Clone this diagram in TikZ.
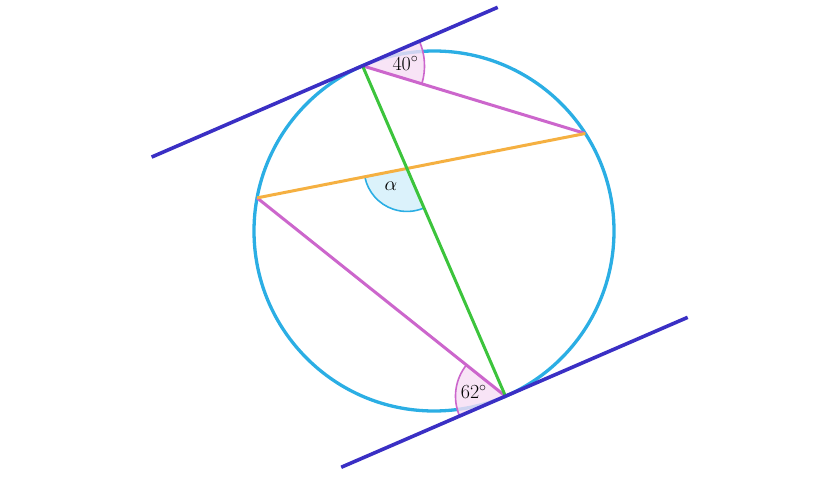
\RequirePackage{fix-cm}
\documentclass[tikz,border=0pt]{standalone}
\usetikzlibrary{calc}
\definecolor{circblue}{HTML}{2BAEE4}
\definecolor{tangblue}{HTML}{3A2FC4}
\definecolor{chordpurple}{HTML}{CC66CC}
\definecolor{diamgreen}{HTML}{3CC43C}
\definecolor{chordorange}{HTML}{F5B041}
\definecolor{pinkfill}{HTML}{F6DDF4}
\definecolor{bluefill}{HTML}{D2EFFA}
\begin{document}
\begin{tikzpicture}[x=1pt,y=1pt,
  circ/.style={draw=circblue,line width=3.3pt},
  tang/.style={draw=tangblue,line width=3.6pt},
  chordp/.style={draw=chordpurple,line width=3pt},
  diam/.style={draw=diamgreen,line width=3pt},
  chordo/.style={draw=chordorange,line width=3pt},
  angp/.style={fill=pinkfill,draw=chordpurple,line width=1.6pt,fill opacity=0.8},
  angb/.style={fill=bluefill,draw=circblue,line width=1.6pt,fill opacity=0.8},
  lab/.style={font=\fontsize{20}{22}\selectfont,inner sep=0pt}]
\useasboundingbox (0,0) rectangle (840,480);
\coordinate (O) at (434,249);
\coordinate (A) at ($(O)+(113.4:180)$);
\coordinate (D) at ($(O)+(-66.6:180)$);
\coordinate (B) at ($(O)+(32.8:180)$);
\coordinate (C) at ($(O)+(169.4:180)$);
\coordinate (T1) at ($(A)+(23.4:-229.8)$);
\coordinate (T2) at ($(A)+(23.4:147.3)$);
\coordinate (T3) at ($(D)+(23.4:-179)$);
\coordinate (T4) at ($(D)+(23.4:198.5)$);
\coordinate (P) at (intersection of A--D and C--B);
% circle
\draw[circ] (O) circle (180);
% angle sectors
\path[angp] (A) -- ++(-16.6:62) arc (-16.6:23.4:62) -- cycle;
\path[angp] (D) -- ++(141.4:50) arc (141.4:203.4:50) -- cycle;
\path[angb] (P) -- ++(191.4:43) arc (191.4:293.4:43) -- cycle;
% chords
\draw[chordp] (A) -- (B);
\draw[chordp] (C) -- (D);
\draw[chordo] (C) -- (B);
\draw[diam] (A) -- (D);
% tangents
\draw[tang] (T1) -- (T2);
\draw[tang] (T3) -- (T4);
% labels
\node[lab] (l40) at ($(A)+(3.4:43)$) {$40^\circ$};
\node[lab] (l62) at ($(D)+(172.4:32)$) {$62^\circ$};
\node[lab] (lal) at ($(P)+(228:24)$) {$\alpha$};
\end{tikzpicture}
\end{document}
